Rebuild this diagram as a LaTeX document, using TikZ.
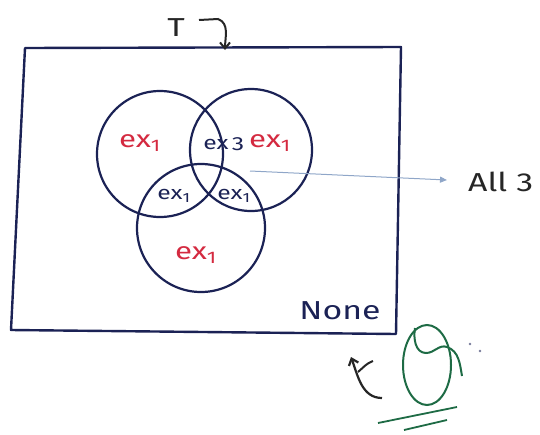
\documentclass[tikz,border=0pt]{standalone}
\usepackage{fontspec}
\setmainfont{Fira Sans}[FakeStretch=1.3]
\usetikzlibrary{arrows.meta,shapes.geometric}
\definecolor{ink}{HTML}{1B2255}
\definecolor{redink}{HTML}{D42A40}
\definecolor{greenink}{HTML}{1E6B45}
\definecolor{lightblue}{HTML}{8FA6C8}
\tikzset{
  venn/.style={draw=ink, line width=2.2pt},
  redlbl/.style={text=redink, font=\fontsize{24}{24}\selectfont, inner sep=0pt},
  darklbl/.style={text=ink, font=\fontsize{19}{19}\selectfont, inner sep=0pt},
  handtxt/.style={text=black!85, font=\fontsize{26}{26}\selectfont, inner sep=0pt},
}
\begin{document}
\begin{tikzpicture}[x=1pt,y=-1pt]
\useasboundingbox (0,0) rectangle (540,434);
% frame
\draw[ink, line width=2.4pt, line join=round] (25,48) -- (401,47) -- (396,334) -- (11,330) -- cycle;
% circles
\node[venn, circle, minimum size=126pt] (A) at (160,154) {};
\node[venn, circle, minimum size=122pt] (B) at (251,150) {};
\node[venn, circle, minimum size=128pt] (C) at (201,228) {};
% labels
\node[redlbl] (la) at (140,143) {ex\textsubscript{1}};
\node[redlbl] (lb) at (270,143) {ex\textsubscript{1}};
\node[darklbl] (lab) at (216,144) {ex};
\node[darklbl] (three) at (238,144) {3};
\node[darklbl] (lac) at (174,196) {ex\textsubscript{1}};
\node[darklbl] (lbc) at (234,196) {ex\textsubscript{1}};
\node[redlbl] (lc) at (196,255) {ex\textsubscript{1}};
% all 3 arrow
\coordinate (s) at (250,171);
\node[handtxt, anchor=west] (all) at (468,182) {All 3};
\coordinate (arrend) at (447,180);
\draw[lightblue, line width=1pt, -{Triangle[length=7pt,width=6pt]}] (s) -- (arrend);
% T
\node[handtxt] (T) at (176,28) {T};
\coordinate (tstart) at (199,20);
\coordinate (tend) at (225,50);
\draw[black!85, line width=2pt, -{Straight Barb[length=6pt,width=10pt]}] (tstart) -- (218,19) to[out=-20,in=90] (tend);
% None
\node[handtxt, text=ink] (none) at (340,311) {None};
% green sketch
\node[draw=greenink, line width=2pt, ellipse, minimum width=48pt, minimum height=80pt, inner sep=0pt] (theta) at (427,365) {};
\coordinate (g1) at (415,328);
\draw[greenink, line width=2pt] (g1) to[out=-100,in=180] (426,353) to[out=0,in=160] (447,347) to[out=-20,in=100] (462,376);
\draw[greenink, line width=1.8pt] (378,423) -- (457,407);
\draw[greenink, line width=1.8pt] (404,430) -- (447,420);
\fill[ink!60] (470,344) circle (1.4pt) (480,351) circle (1.4pt);
% black curly arrow
\coordinate (ca) at (382,398);
\coordinate (cb) at (351,357);
\draw[black!85, line width=2.2pt, -{Straight Barb[length=6pt,width=10pt]}] (ca) to[out=180,in=-70] (cb);
\draw[black!85, line width=2pt] (358,372) to[out=40,in=200] (373,361);
\end{tikzpicture}
\end{document}
